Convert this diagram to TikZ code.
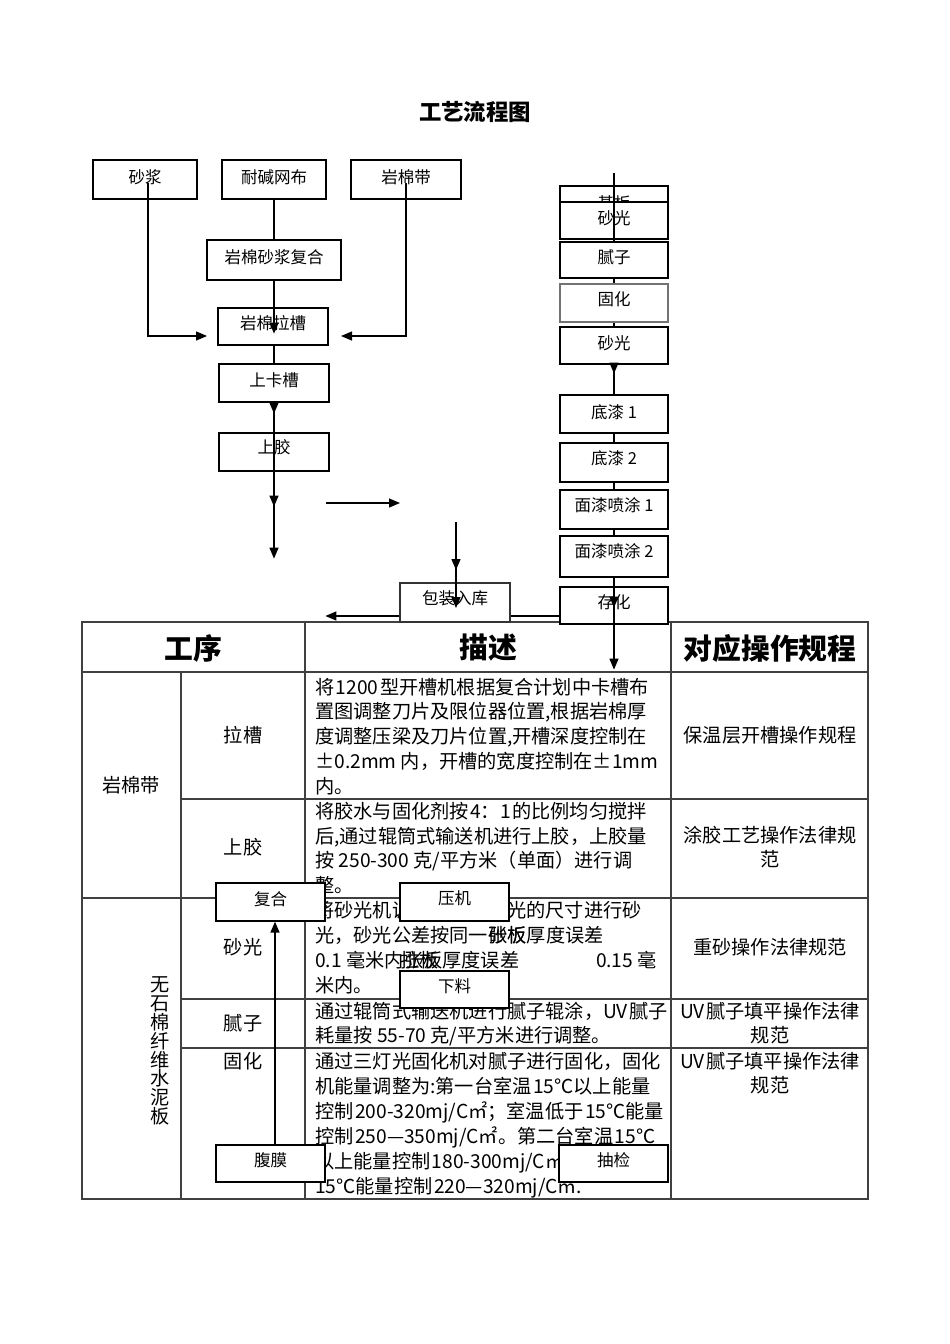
\documentclass[tikz,border=0pt]{standalone}
\usepackage{fontspec}
\setmainfont{Noto Sans CJK SC}
\usetikzlibrary{arrows.meta}
\newcommand\fbx[8][]{%
  \node[fb,#1,minimum width={#5-#3},minimum height={#6-#4}] (#2) at ({(#3+#5)/2},{(#4+#6)/2}) {};
  \node[ft] (#2-t) at ({(#3+#5)/2},#7) {#8};}
\newcommand\ts{\hspace{1.5pt}}
\begin{document}
\begin{tikzpicture}[x=1pt,y=-1pt,
  fb/.style={draw=black, fill=white, line width=1.2pt, inner sep=0pt},
  ft/.style={font=\fontsize{16.5}{18}\selectfont, inner sep=0pt},
  tt/.style={font=\fontsize{19.2}{24.9}\selectfont, inner sep=0pt, text height=16pt, text depth=3.5pt},
  hd/.style={font=\fontsize{28.8}{32}\selectfont\bfseries, inner sep=0pt},
  ttl/.style={font=\fontsize{22.4}{26}\selectfont\bfseries, inner sep=0pt},
  tl/.style={draw=black!75, line width=1.3pt},
  cn/.style={line width=1.3pt},
  ar/.style={cn, -{Triangle[length=11pt,width=9pt]}},
]
\fill[white] (0,0) rectangle (950,1344);
\useasboundingbox (0,0) rectangle (950,1344);

% title
\node[ttl] (title) at (475,112) {工艺流程图};

% ---------------- table ----------------
\draw[tl] (82,622) rectangle (868,1199);
\draw[tl] (82,672) -- (868,672);
\draw[tl] (305,622) -- (305,1199);
\draw[tl] (671,622) -- (671,1199);
\draw[tl] (181,672) -- (181,1199);
\draw[tl] (181,799) -- (868,799);
\draw[tl] (82,898) -- (868,898);
\draw[tl] (181,999) -- (868,999);
\draw[tl] (181,1048) -- (868,1048);

\node[hd] (h1) at (193,648) {工序};
\node[hd] (h2) at (488,648) {描述};
\node[hd] (h3) at (770,648) {对应操作规程};

\node[tt] (g1) at (131,786) {岩棉带};
\node[font=\fontsize{19.2}{18.8}\selectfont, align=center, inner sep=0pt] (g2) at (160,1051) {无\\石\\棉\\纤\\维\\水\\泥\\板};

\node[tt] (s1) at (243,736) {拉槽};
\node[tt] (s2) at (243,848) {上胶};
\node[tt] (s3) at (243,948) {砂光};
\node[tt] (s4) at (243,1024) {腻子};
\node[tt] (s5) at (243,1062) {固化};

\node[tt,anchor=west] (d11) at (315,688) {将\ts{}1200\ts{}型开槽机根据复合计划中卡槽布};
\node[tt,anchor=west] (d12) at (315,712.5) {置图调整刀片及限位器位置,根据岩棉厚};
\node[tt,anchor=west] (d13) at (315,737) {度调整压梁及刀片位置,开槽深度控制在};
\node[tt,anchor=west] (d14) at (315,762) {±0.2mm 内，开槽的宽度控制在±1mm};
\node[tt,anchor=west] (d15) at (315,787) {内。};

\node[tt,anchor=west] (d21) at (315,812) {将胶水与固化剂按\ts{}4：1\ts{}的比例均匀搅拌};
\node[tt,anchor=west] (d22) at (315,837) {后,通过辊筒式输送机进行上胶，上胶量};
\node[tt,anchor=west] (d23) at (315,861) {按 250-300 克/平方米（单面）进行调};
\node[tt,anchor=west] (d24) at (315,886) {整。};

\node[tt,anchor=west] (d31) at (315,911) {将砂光机调整到所需砂光的尺寸进行砂};
\node[tt,anchor=west] (d32a) at (315,936) {光，砂光公差按同一};
\node[tt,anchor=west] (d32b) at (d32a.east) {张板厚度误差};
\node[tt,anchor=west] (d32o) at (d32a.east) {砂板};
\node[tt,anchor=west] (d33a) at (315,961) {0.1 毫米内};
\node[tt,anchor=west] (d33b) at (d33a.east) {张板厚度误差};
\node[tt,anchor=west] (d33o) at ([xshift=-4pt]d33a.east) {拉板};
\node[tt,anchor=east] (d33c) at (657,961) {0.15 毫};
\node[tt,anchor=west] (d34) at (315,986) {米内。};

\node[tt,anchor=west] (d41) at (315,1012) {通过辊筒式输送机进行腻子辊涂，UV\ts{}腻子};
\node[tt,anchor=west] (d42) at (315,1036) {耗量按 55-70 克/平方米进行调整。};

\node[tt,anchor=west] (d51) at (315,1062) {通过三灯光固化机对腻子进行固化，固化};
\node[tt,anchor=west] (d52) at (315,1087) {机能量调整为:第一台室温\ts{}15℃以上能量};
\node[tt,anchor=west] (d53) at (315,1112) {控制\ts{}200-320mj/C㎡；室温低于\ts{}15℃能量};
\node[tt,anchor=west] (d54) at (315,1137) {控制\ts{}250—350mj/C㎡。第二台室温\ts{}15℃};
\node[tt,anchor=west] (d55) at (315,1162) {以上能量控制\ts{}180-300mj/C㎡；室温低于};
\node[tt,anchor=west] (d56) at (315,1187) {15℃能量控制\ts{}220—320mj/C㎡.};

\node[tt] (r1) at (770,736) {保温层开槽操作规程};
\node[tt] (r2a) at (770,836) {涂胶工艺操作法律规};
\node[tt] (r2b) at (770,860) {范};
\node[tt] (r3) at (770,948) {重砂操作法律规范};
\node[tt] (r4a) at (770,1012) {UV\ts{}腻子填平操作法律};
\node[tt] (r4b) at (770,1036) {规范};
\node[tt] (r5a) at (770,1062) {UV\ts{}腻子填平操作法律};
\node[tt] (r5b) at (770,1086) {规范};

% ---------------- left flow ----------------
\fbx{sj}{93}{160}{197}{199}{177}{砂浆}
\fbx{nj}{222}{160}{326}{199}{177}{耐碱网布}
\fbx{ym}{351}{160}{461}{199}{177}{岩棉带}
\fbx{fhc}{207}{240}{341}{280}{257}{岩棉砂浆复合}
\fbx{lc}{218}{308}{328}{345}{323}{岩棉拉槽}
\fbx{skc}{219}{364}{329}{402}{380}{上卡槽}
\fbx{sjj}{219}{433}{329}{471}{447}{上胶}

\coordinate (sjo) at (148,183);
\coordinate (sjk) at (148,336);
\coordinate (lcl) at (207,336);
\draw[ar] (sjo) -- (sjk) -- (lcl);
\coordinate (ymo) at (406,183);
\coordinate (ymk) at (406,336);
\coordinate (lcr) at (341,336);
\draw[ar] (ymo) -- (ymk) -- (lcr);
\draw[cn] (nj.south) -- (fhc.north);
\draw[ar] (fhc.south) -- ++(0,53);
\draw[cn] (lc.south -| fhc.south) -- (skc.north -| fhc.south);
\draw[ar] (skc.south) -- ++(0,11);
\draw[ar] (skc.south) -- ++(0,104);
\draw[ar] (skc.south) -- ++(0,156);

\coordinate (ha) at (326,503);
\coordinate (hb) at (400,503);
\draw[ar] (ha) -- (hb);

% ---------------- right flow ----------------
\fbx{jb}{560}{186}{668}{226}{203.5}{基板}
\fbx{sg1}{560}{202}{668}{239}{218}{砂光}
\fbx{nz}{560}{242}{668}{278}{257}{腻子}
\fbx[draw=black!55]{gh}{560}{284}{668}{322}{299}{固化}
\fbx{sg2}{560}{327}{668}{364}{343}{砂光}
\fbx{dq1}{560}{395}{668}{433}{412}{底漆 1}
\fbx{dq2}{560}{443}{668}{482}{458}{底漆 2}
\fbx{mq1}{560}{490}{668}{529}{505}{面漆喷涂 1}
\fbx{mq2}{560}{536}{668}{577}{551}{面漆喷涂 2}
\fbx{ch}{560}{587}{668}{624}{602}{存化}
\fbx[draw=black!80]{bz}{400}{583}{510}{622}{598}{包装入库}

\coordinate (jtop) at (614,173);
\draw[cn] (jtop) -- (sg1.south);
\draw[cn] (sg1.south) -- (nz.north);
\draw[cn] (nz.south) -- (gh.north);
\draw[cn] (gh.south) -- (sg2.north);
\draw[ar] (sg2.south) -- ++(0,9);
\draw[cn] (sg2.south) -- (dq1.north);
\draw[cn] (dq1.south) -- (dq2.north);
\draw[cn] (dq2.south) -- (mq1.north);
\draw[cn] (mq1.south) -- (mq2.north);
\draw[ar] (mq2.south) -- ++(0,30);
\draw[ar] (mq2.south) -- ++(0,92);

\coordinate (va) at (456,522);
\draw[ar] (va) -- ++(0,48);
\draw[ar] (va) -- ++(0,86);

\draw[cn] ([yshift=-10.5pt]ch.west) -- ([yshift=-13.5pt]bz.east);
\draw[ar] ([yshift=-13.5pt]bz.west) -- ++(-74,0);

% ---------------- boxes over the table ----------------
\fbx{fh}{216}{883}{325}{921}{899}{复合}
\fbx{yj}{400}{883}{509}{921}{898}{压机}
\fbx{xl}{400}{971}{509}{1008}{986}{下料}
\fbx{fm}{216}{1145}{325}{1182}{1160}{腹膜}
\fbx{cj}{559}{1145}{668}{1182}{1160}{抽检}
\draw[ar] ([xshift=4.5pt]fm.north) -- ([xshift=4.5pt]fh.south);
\end{tikzpicture}
\end{document}
